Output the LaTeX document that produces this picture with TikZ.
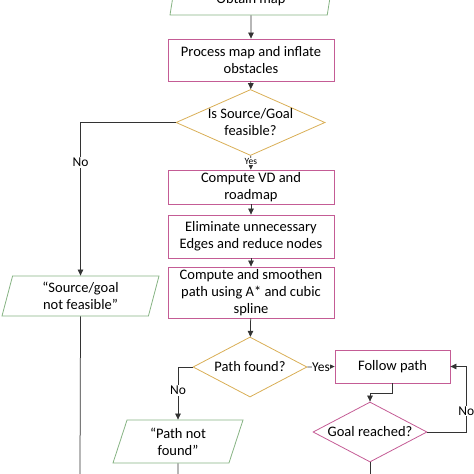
\documentclass[tikz,border=0pt]{standalone}
\usepackage{fontspec}
\setmainfont{Carlito}
\usetikzlibrary{shapes.geometric,arrows.meta}
\definecolor{iocol}{HTML}{86B383}
\definecolor{proccol}{HTML}{C45C95}
\definecolor{deccol}{HTML}{D9AE55}
\definecolor{linecol}{HTML}{333333}
\tikzset{
  iobox/.style={draw=iocol, line width=0.8pt, trapezium, trapezium left angle=69, trapezium right angle=111, trapezium stretches body, inner sep=0pt, align=center, font=\fontsize{14.5}{17}\selectfont},
  procbox/.style={draw=proccol, line width=0.8pt, rectangle, minimum width=166pt, inner sep=0pt, align=center, font=\fontsize{14.5}{17}\selectfont},
  decbox/.style={draw=deccol, line width=0.8pt, diamond, aspect=2.2, inner sep=0pt, align=center, font=\fontsize{14.5}{17}\selectfont},
  flow/.style={draw=linecol, line width=0.75pt},
  arr/.style={flow, -{Triangle[length=6pt,width=5.5pt]}},
  lab/.style={fill=white, inner sep=1pt, text=black, font=\fontsize{13.5}{15}\selectfont},
  smalllab/.style={fill=white, inner sep=0.5pt, text=black, font=\fontsize{9.5}{10}\selectfont},
}

\begin{document}
\begin{tikzpicture}[x=1pt, y=-1pt]
\useasboundingbox (0,0) rectangle (474,474);
\clip (0,0) rectangle (474,474);

% main column
\node[iobox, minimum width=162pt, minimum height=30pt] (obtain) at (251,0) {Obtain map};
\node[procbox, minimum height=42pt] (inflate) at (251,60) {Process map and inflate\\obstacles};
\node[decbox, minimum width=149pt, minimum height=63pt] (feasible) at (250.5,122.5) {Is Source/Goal\\feasible?};
\node[procbox, minimum height=34pt] (voronoi) at (251,187) {Compute VD and\\roadmap};
\node[procbox, minimum height=43pt] (prune) at (251,236.5) {Eliminate unnecessary\\Edges and reduce nodes};
\node[procbox, minimum height=51pt] (smooth) at (251,292.5) {Compute and smoothen\\path using A* and cubic\\spline};
\node[decbox, minimum width=114pt, minimum height=60pt] (found) at (250,367) {Path found?};

% left branch
\node[iobox, minimum width=157pt, minimum height=40pt] (infeasible) at (80.5,296) {“Source/goal\\not feasible”};
\node[iobox, trapezium left angle=63, trapezium right angle=117, minimum width=130pt, minimum height=43pt] (notfound) at (178,441.5) {“Path not\\found”};

% right branch
\node[procbox, minimum width=115pt, minimum height=33pt] (follow) at (392.5,366.5) {Follow path};
\node[decbox, draw=proccol, minimum width=114pt, minimum height=60pt] (reached) at (370,432) {Goal reached?};

\coordinate (endA) at (80,474);
\coordinate (endB) at (178,474);
\coordinate (endC) at (370,474);

% connectors
\draw[arr] (obtain) -- (inflate);
\draw[arr] (inflate) -- (feasible);
\draw[arr] (feasible) -- node[smalllab, pos=0.4] {Yes} (voronoi);
\draw[arr] (voronoi) -- (prune);
\draw[arr] (prune) -- (smooth);
\draw[arr] (smooth) -- (found);
\draw[arr] (feasible.west) -| node[lab, pos=0.63] {No} (infeasible.north);
\draw[flow] (infeasible.south) -- (endA);
\draw[arr] (found.east) -- node[lab, inner sep=0pt] {Yes} (follow.west);
\draw[arr] (found.west) -| node[lab, pos=0.72] {No} (notfound.north);
\draw[flow] (notfound.south) -- (endB);
\draw[arr] (follow.south) -- ++(0,10) -| (reached.north);
\draw[arr] (reached.east) -- ++(39,0) |- node[lab, pos=0.16] {No} (follow.east);
\draw[flow] (reached.south) -- (endC);
\end{tikzpicture}
\end{document}
